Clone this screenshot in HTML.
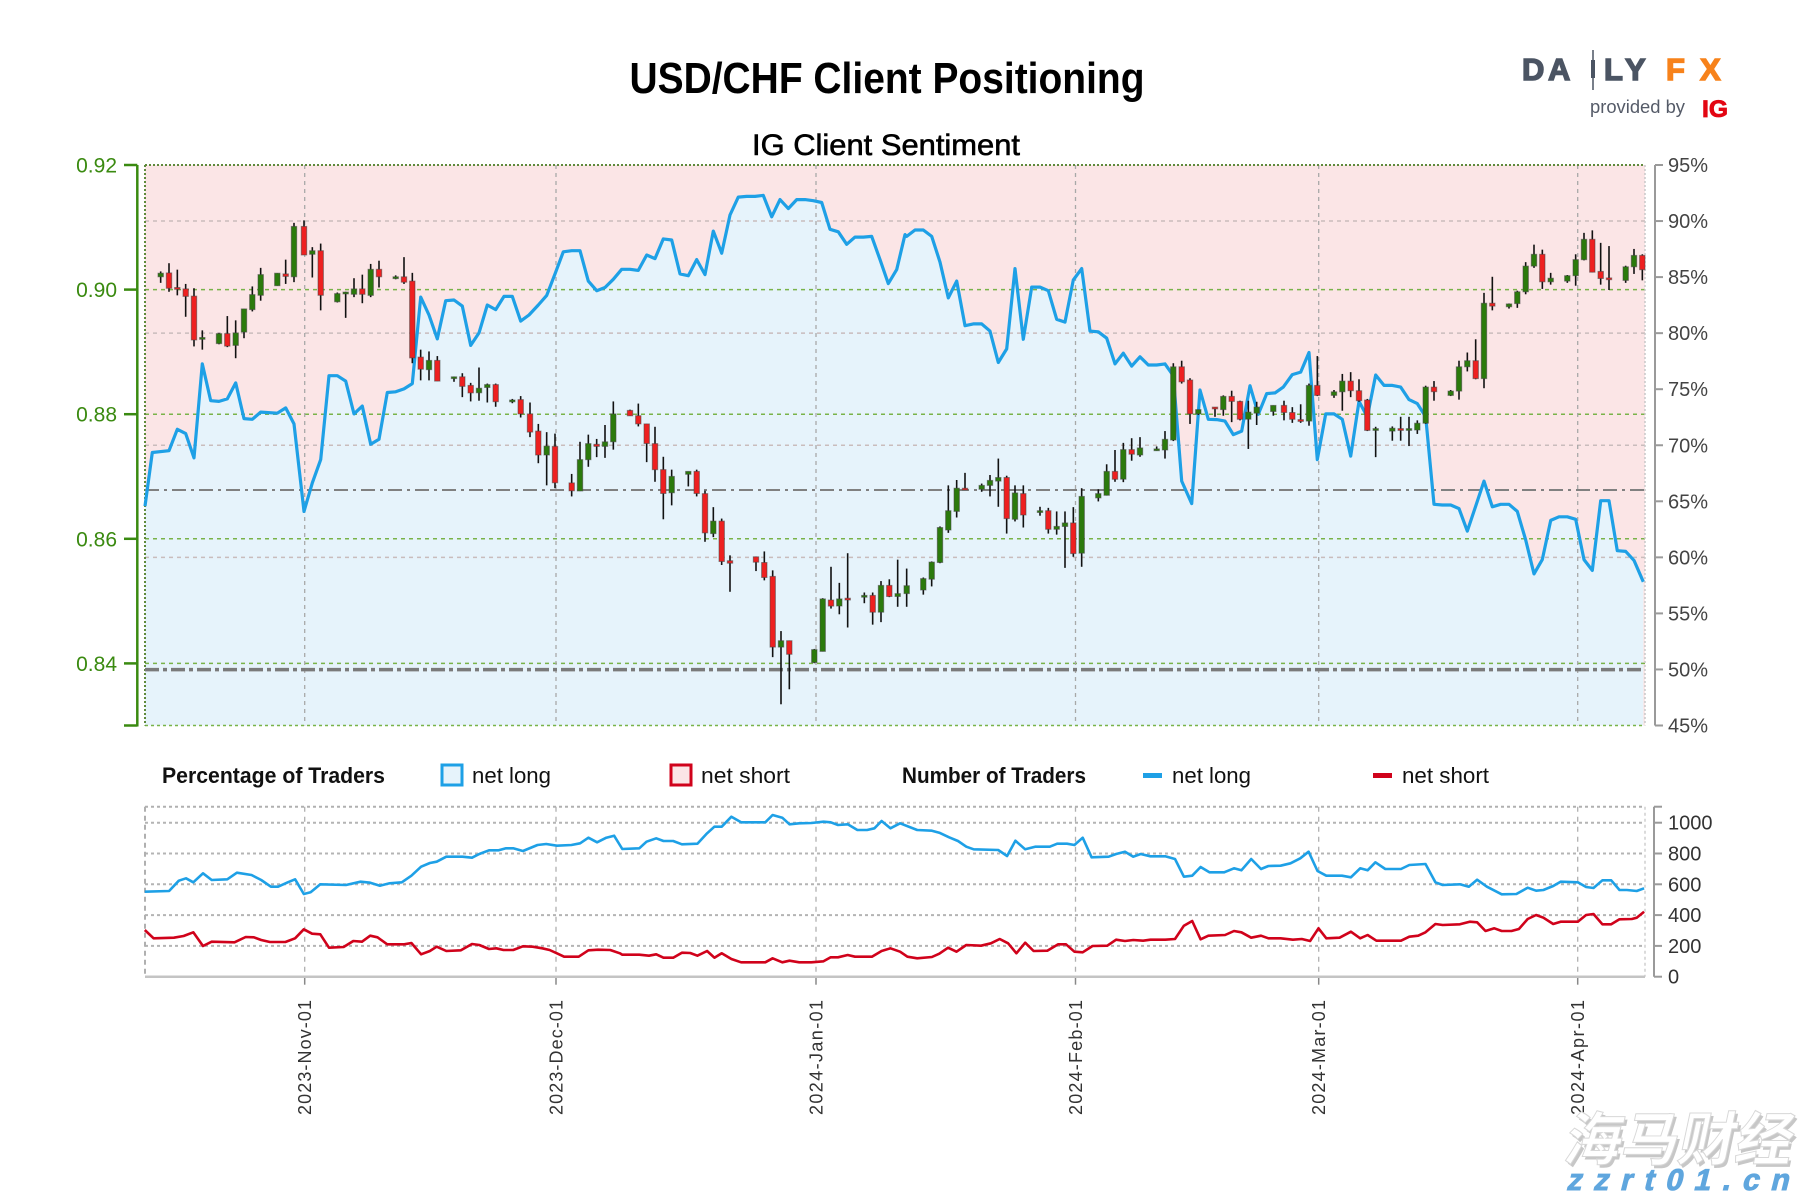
<!DOCTYPE html>
<html><head><meta charset="utf-8">
<style>
html,body{margin:0;padding:0;background:#fff;}
svg{display:block;}
text{font-family:"Liberation Sans","Noto Sans CJK SC",sans-serif;}
</style></head>
<body>
<svg id="c" width="1800" height="1200" viewBox="0 0 1800 1200" xmlns="http://www.w3.org/2000/svg">
<rect x="0" y="0" width="1800" height="1200" fill="#fff"/>
<!-- Titles -->
<text x="887" y="93" text-anchor="middle" font-size="44" font-weight="bold" fill="#000" textLength="515" lengthAdjust="spacingAndGlyphs">USD/CHF Client Positioning</text>
<text x="886" y="155" text-anchor="middle" font-size="30" fill="#000" stroke="#000" stroke-width="0.6" textLength="268" lengthAdjust="spacingAndGlyphs">IG Client Sentiment</text>
<!-- Logo -->
<g font-weight="bold" font-size="31" stroke-width="1.4">
<text x="1522" y="80" fill="#4b5463" stroke="#4b5463">D</text>
<text x="1548" y="80" fill="#4b5463" stroke="#4b5463">A</text>
<text x="1604" y="80" fill="#4b5463" stroke="#4b5463">L</text>
<text x="1625" y="80" fill="#4b5463" stroke="#4b5463">Y</text>
<text x="1666" y="80" fill="#f7821b" stroke="#f7821b">F</text>
<text x="1700" y="80" fill="#f7821b" stroke="#f7821b">X</text>
</g>
<line x1="1593" y1="50" x2="1593" y2="90" stroke="#4b5463" stroke-width="1.5"/>
<rect x="1591" y="60" width="4" height="18" fill="#4b5463"/>
<text x="1590" y="113" font-size="18" fill="#555b68" textLength="95" lengthAdjust="spacingAndGlyphs">provided by</text>
<text x="1702" y="117" font-size="24" font-weight="bold" fill="#e30613" stroke="#e30613" stroke-width="0.8" textLength="26" lengthAdjust="spacingAndGlyphs">IG</text>

<!-- Main plot backgrounds -->
<rect x="145" y="165" width="1500" height="560.5" fill="#fbe5e6"/>
<g id="area"></g>
<g id="grid"></g>
<g id="bline"></g>
<g id="candles"></g>
<g id="axes"></g>

<!-- Legend -->
<g font-size="22" fill="#111">
<text x="162" y="783" font-weight="bold" textLength="223" lengthAdjust="spacingAndGlyphs">Percentage of Traders</text>
<rect x="442" y="765" width="20" height="20" fill="#e6f3fb" stroke="#1ea0e6" stroke-width="3"/>
<text x="472" y="783" textLength="79" lengthAdjust="spacingAndGlyphs">net long</text>
<rect x="671" y="765" width="20" height="20" fill="#fbe5e6" stroke="#d0021b" stroke-width="3"/>
<text x="701" y="783" textLength="89" lengthAdjust="spacingAndGlyphs">net short</text>
<text x="902" y="783" font-weight="bold" textLength="184" lengthAdjust="spacingAndGlyphs">Number of Traders</text>
<rect x="1143" y="773" width="19" height="5" fill="#1ea0e6"/>
<text x="1172" y="783" textLength="79" lengthAdjust="spacingAndGlyphs">net long</text>
<rect x="1373" y="773" width="19" height="5" fill="#d0021b"/>
<text x="1402" y="783" textLength="87" lengthAdjust="spacingAndGlyphs">net short</text>
</g>

<g id="bottom"></g>
<g id="dates"></g>

<!-- Watermark -->
<g transform="translate(1562,1160) skewX(-12)">
<text x="3" y="3" font-family="'Noto Sans CJK SC','WenQuanYi Zen Hei',sans-serif" font-size="58" font-weight="bold" fill="#9a9a9a" opacity="0.55" textLength="228" lengthAdjust="spacingAndGlyphs">海马财经</text>
<text x="0" y="0" font-family="'Noto Sans CJK SC','WenQuanYi Zen Hei',sans-serif" font-size="58" font-weight="bold" fill="#ffffff" stroke="#d8d8d8" stroke-width="1" textLength="228" lengthAdjust="spacingAndGlyphs">海马财经</text>
</g>
<g transform="translate(1566,1190) skewX(-14)">
<text x="0" y="0" font-size="30" font-weight="bold" fill="#5fa6de" stroke="#5fa6de" stroke-width="1" textLength="222" lengthAdjust="spacing">zzrt01.cn</text>
</g>
</svg>
<script>
(function(){
var NS='http://www.w3.org/2000/svg';
function el(p,t,a){var e=document.createElementNS(NS,t);for(var k in a)e.setAttribute(k,a[k]);p.appendChild(e);return e;}
var g=function(id){return document.getElementById(id);};
var X0=145,X1=1645,YT=165,YB=725.5;
function py(p){return 165+(0.92-p)*6230;}
function pc(p){return 165+(95-p)*11.21;}
var months=[304.7,556,816,1075.5,1318.7,1577.7];
var mlabels=['2023-Nov-01','2023-Dec-01','2024-Jan-01','2024-Feb-01','2024-Mar-01','2024-Apr-01'];

var segs=[
[140,[[12,955],[37,805],[87,800],[112,740],[137,752],[162,820],[187,557],[212,660],[237,662],[262,655],[287,610],[312,710],[337,712],[362,692],[412,695],[437,680],[462,725],[492,970],[517,890],[542,825],[567,590],[592,590],[617,605],[642,697],[667,675],[692,782],[717,768],[742,637],[767,635],[792,627],[817,612],[842,370],[867,420],[892,487],[917,380],[942,378],[967,395],[992,505],[1017,470],[1042,392],[1067,405],[1092,368],[1117,368],[1142,437],[1167,420]]],
[520,[[55,392],[80,365],[105,305],[130,243],[155,240],[180,240],[205,325],[230,352],[255,343],[280,320],[305,292],[330,292],[355,295],[380,252],[405,262],[430,207],[455,210],[480,305],[505,310],[530,265],[555,307],[580,185],[605,247],[630,140],[655,90],[680,88],[705,88],[730,85],[755,145],[780,97],[805,122],[830,97],[855,97],[880,100],[905,105],[930,180],[955,187],[980,222],[1005,202],[1030,202],[1055,200],[1080,265],[1105,332],[1130,293],[1155,195]]],
[900,[[20,200],[45,182],[70,182],[95,200],[120,272],[145,372],[170,325],[195,450],[220,445],[245,445],[270,465],[295,553],[320,515],[345,290],[370,488],[395,342],[420,342],[445,352],[470,432],[495,440],[520,322],[545,290],[570,465],[595,467],[620,485],[645,557],[670,527],[695,563],[720,537],[745,560],[770,560],[795,557],[820,590],[845,885],[875,948],[900,630],[925,712],[950,713],[975,717],[1000,755],[1025,745],[1050,618],[1075,698],[1100,640],[1125,638],[1150,622]]],
[1270,[[67,587],[92,580],[117,525],[142,825],[167,697],[192,697],[217,712],[242,815],[267,662],[292,705],[317,588],[342,617],[367,617],[392,622],[417,657],[442,668],[467,705],[492,950],[517,952],[542,952],[567,962],[592,1025],[617,955],[642,885],[667,957],[692,950],[717,950],[742,970],[767,1050],[792,1145],[817,1105],[842,995],[867,985],[892,985],[917,992],[942,1105],[967,1135],[992,940],[1017,940],[1042,1080],[1067,1082],[1092,1107],[1120,1167]]]
];
var pts=[];
segs.forEach(function(s){s[1].forEach(function(p){pts.push([Math.max(X0,s[0]+p[0]/3),165+p[1]/2.8]);});});
var ps=pts.map(function(p){return p[0].toFixed(1)+','+p[1].toFixed(1);}).join(' ');
el(g('area'),'polygon',{points:ps+' '+pts[pts.length-1][0].toFixed(1)+','+YB+' '+X1+','+YB+' '+X1+','+YB+' '+pts[0][0].toFixed(1)+','+YB,fill:'#e6f3fb'});

var G=g('grid');
[90,80,70,60].forEach(function(p){var y=pc(p);el(G,'line',{x1:X0,y1:y,x2:X1,y2:y,stroke:'#c9bcbc','stroke-width':1.5,'stroke-dasharray':'4,4'});});
[0.90,0.88,0.86,0.84].forEach(function(p){var y=py(p);el(G,'line',{x1:X0,y1:y,x2:X1,y2:y,stroke:'#79b349','stroke-width':1.5,'stroke-dasharray':'4,4'});});
months.forEach(function(x){el(G,'line',{x1:x,y1:YT,x2:x,y2:YB,stroke:'#a8a8a8','stroke-width':1.3,'stroke-dasharray':'4,4'});});
el(G,'line',{x1:X0,y1:YT,x2:X1,y2:YT,stroke:'#5f8a3c','stroke-width':2,'stroke-dasharray':'2,2'});
el(G,'line',{x1:X0,y1:YB,x2:X1,y2:YB,stroke:'#79b349','stroke-width':1.5,'stroke-dasharray':'3,3'});
el(G,'line',{x1:X0,y1:YT,x2:X0,y2:YB,stroke:'#5f8a3c','stroke-width':2,'stroke-dasharray':'2,2'});
el(G,'line',{x1:X1,y1:YT,x2:X1,y2:YB,stroke:'#c8c8c8','stroke-width':1.5,'stroke-dasharray':'2,2'});
el(G,'line',{x1:X0,y1:490,x2:X1,y2:490,stroke:'#808080','stroke-width':2,'stroke-dasharray':'14,5,3,5'});
el(G,'line',{x1:X0,y1:669.6,x2:X1,y2:669.6,stroke:'#7a7a7a','stroke-width':3.5,'stroke-dasharray':'14,4,4,4'});

el(g('bline'),'polyline',{points:ps,fill:'none',stroke:'#1ea0e6','stroke-width':3.2,'stroke-linejoin':'round'});

var cs=[
[140,[[62,1,303,313,298,330],[87,0,302,345,275,355],[112,0,343,348,293,365],[137,0,347,368,333,425],[162,0,367,490,345,508],[187,1,483,487,463,517],[237,1,472,500,470,502],[262,0,472,507,423,510],[287,1,470,505,435,541],[312,1,403,468,403,485],[337,1,363,405,340,410],[362,1,307,365,288,380],[412,1,303,338,303,338],[437,0,305,312,265,333],[462,1,172,313,162,328],[492,0,172,252,155,252],[517,1,240,250,230,315],[542,0,240,365,220,407],[592,1,360,383,357,385],[617,1,356,360,355,428],[642,1,347,362,317,370],[667,0,347,362,307,387],[692,1,292,365,277,370],[717,0,292,313,268,343],[767,1,313,317,309,320],[792,0,313,328,258,333],[817,0,325,540,302,555],[842,0,538,572,517,603],[867,1,547,573,522,603],[892,0,547,605,535,605],[942,1,593,597,593,607],[967,0,593,620,583,650],[992,0,617,638,610,662],[1017,1,625,638,567,660],[1042,1,615,623,612,665],[1067,0,615,663,612,677],[1117,1,658,662,655,667],[1142,0,657,697,647,707]]],
[520,[[30,0,697,748,665,762],[55,0,745,812,725,835],[80,1,787,812,748,897],[105,0,788,890,752,905],[155,0,890,912,865,928],[180,1,825,913,775,913],[205,1,780,825,755,845],[230,0,782,788,767,818],[255,1,775,788,728,820],[280,1,697,775,662,797],[330,0,687,702,685,702],[355,0,702,725,668,732],[380,0,725,780,725,832],[405,0,780,853,733,887],[430,0,853,920,817,992],[455,1,872,918,853,953],[505,1,858,866,858,900],[530,0,858,920,853,928],[555,0,920,1030,912,1055],[580,1,997,1032,958,1042],[605,0,997,1110,990,1120],[630,0,1108,1115,1093,1195],[708,0,1097,1112,1097,1137],[733,0,1113,1155,1082,1163],[758,0,1152,1350,1135,1378],[783,1,1332,1350,1305,1510],[808,0,1332,1370,1332,1468],[883,1,1357,1393,1355,1395],[908,1,1215,1362,1213,1362],[933,0,1218,1235,1125,1242],[958,1,1215,1235,1170,1258],[983,0,1213,1217,1087,1295],[1033,1,1205,1210,1197,1227],[1058,0,1205,1252,1197,1287],[1083,1,1177,1252,1165,1280],[1108,0,1177,1208,1160,1210],[1133,1,1200,1208,1105,1237]]],
[900,[[20,1,1178,1200,1130,1237],[70,1,1158,1190,1155,1203],[95,1,1112,1160,1110,1180],[120,1,1015,1113,1012,1115],[145,1,968,1022,897,1030],[170,1,905,970,882,987],[195,0,905,910,862,910],[245,1,897,908,892,915],[270,1,883,897,868,928],[295,1,875,885,822,957],[320,0,875,990,870,1032],[345,1,918,992,897,998],[370,0,920,980,897,1015],[420,1,968,972,957,982],[445,0,968,1020,960,1032],[470,1,1012,1020,970,1035],[495,1,1002,1012,970,1128],[520,0,1002,1088,958,1097],[545,1,928,1087,905,1125],[595,1,920,932,908,942],[620,1,858,925,838,925],[645,0,858,880,798,887],[670,1,797,880,778,888],[695,0,797,810,765,828],[720,1,792,812,762,817],[770,1,795,799,788,800],[795,1,768,798,745,822],[820,1,565,770,555,773],[845,0,565,607,548,612],[870,0,602,697,597,725],[895,1,685,697,685,700],[945,0,678,682,678,705],[970,1,648,685,645,702],[995,0,648,662,632,720],[1020,0,662,712,660,715],[1045,1,692,712,660,795],[1070,1,678,695,663,728],[1120,1,673,690,673,702]]],
[1270,[[42,0,673,693,660,715],[67,0,693,712,678,722],[92,0,713,718,670,722],[117,1,617,717,612,730],[142,0,617,645,535,647],[192,1,635,645,630,652],[217,1,605,635,585,688],[242,0,605,632,580,650],[267,0,632,660,600,663],[292,0,658,743,655,745],[317,1,738,742,733,818],[367,1,737,745,732,772],[392,0,738,742,705,772],[417,1,738,742,705,787],[442,1,723,742,715,753],[467,1,622,723,618,725],[492,0,622,635,605,660],[542,1,633,645,630,647],[567,1,565,633,548,657],[592,1,548,565,525,578],[617,0,548,598,488,600],[642,1,387,598,358,625],[667,0,387,395,313,407],[717,1,389,397,388,402],[742,1,355,388,352,400],[767,1,283,355,272,362],[792,1,250,283,223,288],[817,0,250,327,237,347],[842,1,317,327,302,335],[892,1,310,325,308,330],[917,1,265,310,250,338],[942,1,208,265,190,267],[967,0,208,300,183,300],[992,0,298,318,218,335],[1017,0,316,320,227,350],[1067,1,285,323,282,330],[1092,1,253,285,235,305],[1117,0,253,293,250,323]]]
];
var C=g('candles');
cs.forEach(function(s){s[1].forEach(function(c){
 var x=s[0]+c[0]/3,t=165+c[2]/2.8,b=165+c[3]/2.8,h=165+c[4]/2.8,l=165+c[5]/2.8;
 el(C,'line',{x1:x,y1:h,x2:x,y2:l,stroke:'#111','stroke-width':1.6});
 var hh=Math.max(b-t,1.8);
 el(C,'rect',{x:(x-2.7).toFixed(1),y:t.toFixed(1),width:5.4,height:hh.toFixed(1),fill:c[1]?'#2b7a0c':'#ee2020',stroke:'rgba(70,70,70,0.55)','stroke-width':1});
});});

var A=g('axes');
el(A,'line',{x1:137.3,y1:YT,x2:137.3,y2:YB+1,stroke:'#3a8a10','stroke-width':2.5});
[0.92,0.90,0.88,0.86,0.84].forEach(function(p){var y=py(p);
 el(A,'line',{x1:124,y1:y,x2:137.3,y2:y,stroke:'#3a8a10','stroke-width':2.5});
 var t=el(A,'text',{x:117,y:(y+7.5).toFixed(1),'text-anchor':'end','font-size':21,fill:'#3a8a10'});t.textContent=p.toFixed(2);});
el(A,'line',{x1:124,y1:YB,x2:137.3,y2:YB,stroke:'#3a8a10','stroke-width':2.5});
el(A,'line',{x1:1655,y1:YT,x2:1655,y2:YB,stroke:'#9a9a9a','stroke-width':2});
for(var p=95;p>=45;p-=5){var y=pc(p);
 el(A,'line',{x1:1655,y1:y,x2:1663,y2:y,stroke:'#9a9a9a','stroke-width':2});
 var t=el(A,'text',{x:1668,y:(y+7).toFixed(1),'font-size':20,fill:'#444'});t.textContent=p+'%';}

var B=g('bottom'),BT=806.7,BB=976.7;
function vy(v){return BB-v*0.154;}
[1000,800,600,400,200].forEach(function(v){var y=vy(v);el(B,'line',{x1:X0,y1:y,x2:X1,y2:y,stroke:'#b4b4b4','stroke-width':2,'stroke-dasharray':'3,3'});});
el(B,'line',{x1:X0,y1:BT,x2:X1,y2:BT,stroke:'#b0b0b0','stroke-width':2,'stroke-dasharray':'3,3'});
months.forEach(function(x){el(B,'line',{x1:x,y1:BT,x2:x,y2:BB,stroke:'#b0b0b0','stroke-width':1.3,'stroke-dasharray':'5,5'});
 el(B,'line',{x1:x,y1:BB,x2:x,y2:BB+8,stroke:'#888','stroke-width':1.5});});
el(B,'line',{x1:X0,y1:BT,x2:X0,y2:BB,stroke:'#b0b0b0','stroke-width':2,'stroke-dasharray':'5,4'});
el(B,'line',{x1:X1,y1:BT,x2:X1,y2:BB,stroke:'#cfcfcf','stroke-width':1.5,'stroke-dasharray':'3,3'});
el(B,'line',{x1:X0,y1:BB,x2:X1,y2:BB,stroke:'#c4c4c4','stroke-width':2.5});
el(B,'line',{x1:1654,y1:BT,x2:1654,y2:BB,stroke:'#9a9a9a','stroke-width':2});
el(B,'line',{x1:1654,y1:BT,x2:1662,y2:BT,stroke:'#9a9a9a','stroke-width':2});
[1000,800,600,400,200,0].forEach(function(v){var y=vy(v);
 el(B,'line',{x1:1654,y1:y,x2:1662,y2:y,stroke:'#9a9a9a','stroke-width':2});
 var t=el(B,'text',{x:1668,y:(y+7).toFixed(1),'font-size':20,fill:'#333'});t.textContent=v;});
var z9b=[[10,290],[60,288],[80,257],[95,250],[110,262],[130,235],[148,255],[180,253],[200,233],[230,240],[250,255],[270,275],[285,275],[305,262],[320,253],[338,297],[352,292],[372,268],[425,270],[455,260],[475,263],[495,272],[515,265],[540,262],[560,242],[580,215],[598,204],[612,200],[632,185],[665,185],[685,188],[700,177],[720,166],[740,166],[755,160],[770,160],[790,168],[820,150],[838,147],[860,152],[890,150],[908,145],[925,128],[943,142],[962,128],[978,122],[995,162],[1030,160],[1045,140],[1065,130],[1080,138],[1100,138],[1118,148],[1150,146],[1170,115],[1185,95],[1200,95],[1220,65],[1240,82],[1290,82],[1305,60],[1325,68],[1340,88],[1360,85],[1385,84],[1410,80],[1425,82],[1440,90],[1460,88],[1480,105],[1500,105],[1515,100],[1530,78],[1548,100],[1568,85]];
var z9r=[[10,405],[28,430],[70,428],[90,423],[110,412],[130,453],[148,440],[195,442],[218,426],[235,427],[250,435],[268,441],[300,441],[320,430],[338,403],[355,416],[372,418],[390,458],[420,456],[440,438],[458,440],[475,422],[490,427],[510,448],[545,448],[560,444],[580,478],[598,468],[612,455],[632,468],[662,466],[685,447],[700,450],[720,462],[735,460],[750,465],[770,465],[790,454],[810,455],[830,460],[845,465],[860,475],[875,485],[905,485],[925,466],[945,464],[970,465],[990,475],[995,479],[1030,479],[1050,482],[1065,478],[1080,488],[1100,488],[1118,473],[1135,474],[1150,482],[1170,468],[1185,488],[1200,475],[1220,492],[1240,502],[1290,502],[1305,490],[1325,502],[1340,497],[1360,502],[1385,502],[1410,499],[1425,487],[1440,487],[1460,480],[1475,485],[1510,485],[1530,468],[1548,460],[1568,470]];
var z10b=[[35,105],[65,107],[80,113],[100,127],[118,138],[135,155],[150,163],[200,165],[218,183],[235,137],[255,163],[275,155],[305,155],[320,146],[340,146],[355,150],[372,128],[390,187],[425,185],[440,177],[458,170],[475,185],[490,177],[510,184],[540,184],[560,192],[578,245],[595,242],[612,216],[630,232],[660,232],[680,220],[695,226],[715,192],[735,222],[750,213],[775,212],[795,205],[815,190],[832,170],[850,228],[868,242],[900,242],[918,247],[937,220],[952,226],[968,202],[988,222],[1020,222],[1037,210],[1070,207],[1090,262],[1105,270],[1140,268],[1158,275],[1175,254],[1195,275],[1225,298],[1255,297],[1278,278],[1295,287],[1310,285],[1330,273],[1345,260],[1380,262],[1397,276],[1412,279],[1430,256],[1448,256],[1465,285],[1480,285],[1500,288],[1515,280]];
var z10r=[[15,485],[35,490],[65,486],[80,476],[98,458],[115,470],[135,450],[165,452],[185,445],[203,432],[220,445],[237,475],[255,443],[272,468],[300,467],[322,448],[338,448],[355,470],[372,472],[392,453],[422,452],[440,434],[458,438],[475,435],[495,437],[510,434],[540,434],[560,432],[578,392],[595,378],[612,433],[628,422],[662,420],[680,408],[695,412],[715,428],[735,422],[750,430],[775,430],[800,434],[818,432],[835,438],[852,400],[868,430],[895,428],[918,410],[937,430],[952,420],[970,437],[1020,437],[1037,425],[1055,422],[1070,412],[1090,387],[1105,390],[1140,388],[1160,380],[1175,382],[1192,408],[1210,400],[1225,408],[1245,408],[1260,402],[1278,372],[1295,360],[1310,368],[1330,387],[1345,380],[1380,380],[1397,360],[1412,357],[1430,388],[1448,388],[1465,373],[1490,372],[1500,368],[1515,350]];
function conv(a,x0,sx){return a.map(function(p){return (x0+p[0]/sx).toFixed(1)+','+(795+p[1]/3).toFixed(1);}).join(' ');}
el(B,'polyline',{points:conv(z9r,140,2.063)+' '+conv(z10r,900,2.036),fill:'none',stroke:'#d0021b','stroke-width':2.6,'stroke-linejoin':'round'});
el(B,'polyline',{points:conv(z9b,140,2.063)+' '+conv(z10b,900,2.036),fill:'none',stroke:'#1ea0e6','stroke-width':2.6,'stroke-linejoin':'round'});

var D=g('dates');
months.forEach(function(x,i){
 var t=el(D,'text',{transform:'translate('+(x+6.5)+',1000) rotate(-90)','text-anchor':'end','font-size':18,fill:'#333',textLength:115,lengthAdjust:'spacing'});
 t.textContent=mlabels[i];});
})();
</script>
</body></html>
